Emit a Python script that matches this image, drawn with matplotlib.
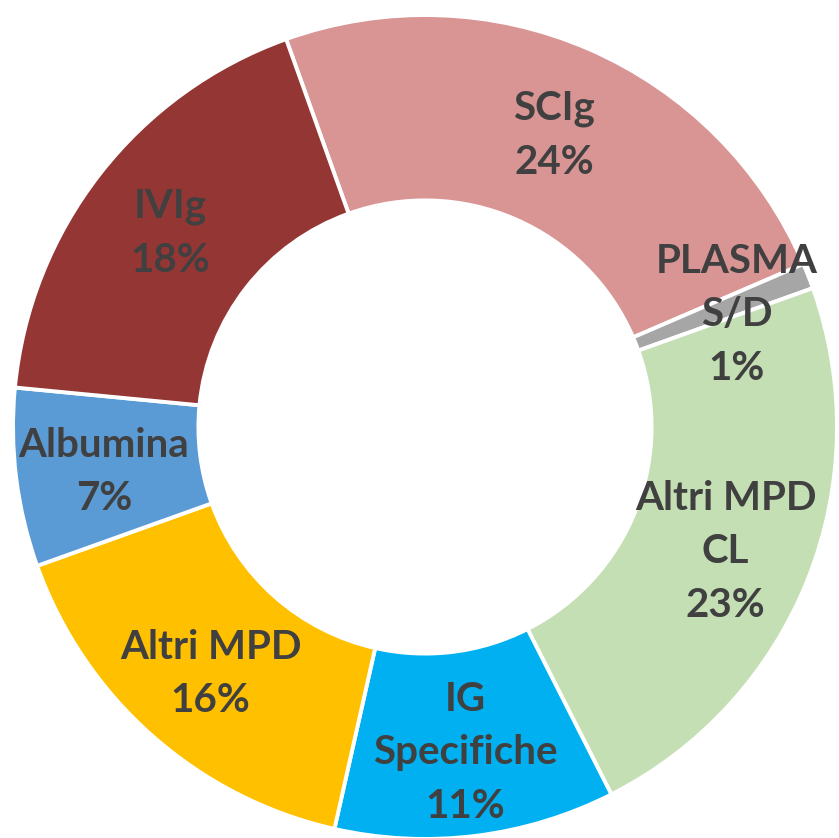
import numpy as np
import matplotlib.pyplot as plt

labels = ['SCIg', 'PLASMA\nS/D', 'Altri MPD\nCL', 'IG\nSpecifiche', 'Altri MPD', 'Albumina', 'IVIg']
values = [24, 1, 23, 11, 16, 7, 18]
colors = ['#D99594', '#A6A6A6', '#C4DFB4', '#00B0F0', '#FFC000', '#5B9BD5', '#943634']

plt.rcParams['font.family'] = ['Lato', 'DejaVu Sans']

fig = plt.figure(figsize=(8.39, 8.38), dpi=100)
ax = fig.add_axes([0, 0, 1, 1])
wedges, _ = ax.pie(values, colors=colors, startangle=109.7, counterclock=False,
                   radius=1.0, wedgeprops=dict(width=0.45, edgecolor='white', linewidth=2.8))

r_lab = 0.785
for w, lab, v in zip(wedges, labels, values):
    text = lab + '\n' + str(v) + '%'
    if lab.startswith('PLASMA'):
        x, y = 0.757, 0.284
    else:
        ang = np.deg2rad((w.theta1 + w.theta2) / 2)
        x, y = r_lab * np.cos(ang), r_lab * np.sin(ang)
    ax.text(x, y - 0.012, text, ha='center', va='center', fontsize=29, fontweight='bold',
            color='#404040', linespacing=1.55)

ax.set_xlim(-1.0316, 1.0049)
ax.set_ylim(-0.9976, 1.0364)
ax.set_aspect('equal')
ax.axis('off')
fig.savefig('out.png', dpi=100)
